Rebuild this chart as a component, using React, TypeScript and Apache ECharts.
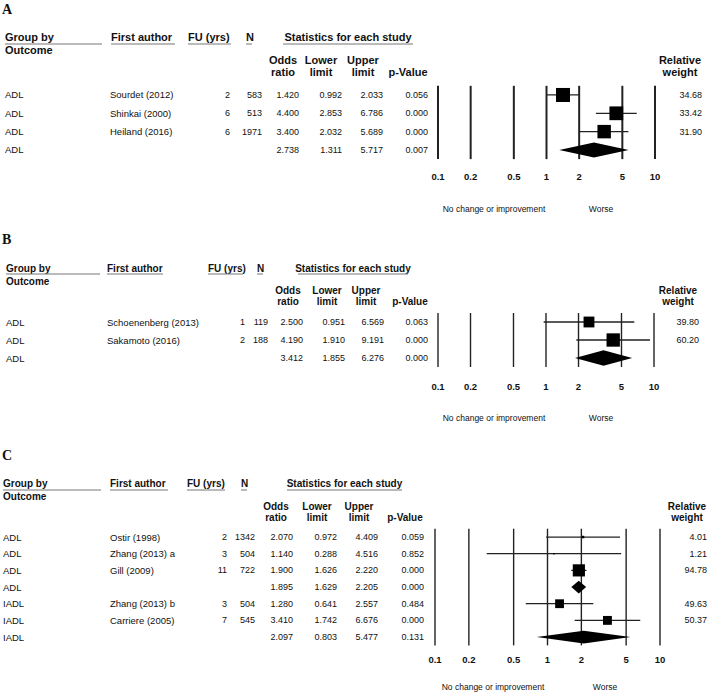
import React, { useEffect, useRef } from 'react';
import * as echarts from 'echarts';

// ---------------- Data ----------------
const tickValues = [0.1, 0.2, 0.5, 1, 2, 5, 10];
const tickLabels = ['0.1', '0.2', '0.5', '1', '2', '5', '10'];
const panelLetters = ['A', 'B', 'C'];
const footerLeft = 'No change or improvement';
const footerRight = 'Worse';

const aOutcome = ['ADL', 'ADL', 'ADL', 'ADL'];
const aAuthor = ['Sourdet (2012)', 'Shinkai (2000)', 'Heiland (2016)', ''];
const aFU = ['2', '6', '6', ''];
const aN = ['583', '513', '1971', ''];
const aOR = [1.42, 4.4, 3.4, 2.738];
const aLower = [0.992, 2.853, 2.032, 1.311];
const aUpper = [2.033, 6.786, 5.689, 5.717];
const aP = [0.056, 0.0, 0.0, 0.007];
const aWeight = [34.68, 33.42, 31.9, 0];
const aSummary = [0, 0, 0, 1];

const bOutcome = ['ADL', 'ADL', 'ADL'];
const bAuthor = ['Schoenenberg (2013)', 'Sakamoto (2016)', ''];
const bFU = ['1', '2', ''];
const bN = ['119', '188', ''];
const bOR = [2.5, 4.19, 3.412];
const bLower = [0.951, 1.91, 1.855];
const bUpper = [6.569, 9.191, 6.276];
const bP = [0.063, 0.0, 0.0];
const bWeight = [39.8, 60.2, 0];
const bSummary = [0, 0, 1];

const cOutcome = ['ADL', 'ADL', 'ADL', 'ADL', 'IADL', 'IADL', 'IADL'];
const cAuthor = ['Ostir (1998)', 'Zhang (2013) a', 'Gill (2009)', '', 'Zhang (2013) b', 'Carriere (2005)', ''];
const cFU = ['2', '3', '11', '', '3', '7', ''];
const cN = ['1342', '504', '722', '', '504', '545', ''];
const cOR = [2.07, 1.14, 1.9, 1.895, 1.28, 3.41, 2.097];
const cLower = [0.972, 0.288, 1.626, 1.629, 0.641, 1.742, 0.803];
const cUpper = [4.409, 4.516, 2.22, 2.205, 2.557, 6.676, 5.477];
const cP = [0.059, 0.852, 0.0, 0.0, 0.484, 0.0, 0.131];
const cWeight = [4.01, 1.21, 94.78, 0, 49.63, 50.37, 0];
const cSummary = [0, 0, 0, 1, 0, 0, 1];

// ---------------- Layout / style ----------------
const SANS = '"Liberation Sans", Arial, sans-serif';
const SERIF = '"Liberation Serif", "Times New Roman", serif';
const INK = '#111';

const panels = [
  { outcome: aOutcome, author: aAuthor, fu: aFU, n: aN, or: aOR, lo: aLower, hi: aUpper, p: aP, w: aWeight, s: aSummary },
  { outcome: bOutcome, author: bAuthor, fu: bFU, n: bN, or: bOR, lo: bLower, hi: bUpper, p: bP, w: bWeight, s: bSummary },
  { outcome: cOutcome, author: cAuthor, fu: cFU, n: cN, or: cOR, lo: cLower, hi: cUpper, p: cP, w: cWeight, s: cSummary },
];

const layouts = [
  {
    letterY: 9, gridLeft: 438, gridWidth: 217, gridTop: 85.8, rowH: 18.33,
    hdrY: 37, outY: 50, sub1Y: 60, sub2Y: 72, ulY: 44, hdrSize: 11,
    groupUl: [5, 102], authorUl: [111, 175], fuUl: [188, 231], nUl: [246, 252], statUl: [283, 413],
    subX: [283, 321, 363, 408], rwX: 680,
    col: { outcome: 5, author: 110, fu: 230, n: 262, or: 299, lo: 342, hi: 383, p: 428, w: 702 },
    tickOffset: 17, footY: 209, footX: [494, 601], lineW: 2, sqK: 2.38, diaH: 0.82,
  },
  {
    letterY: 239, gridLeft: 438, gridWidth: 216, gridTop: 313, rowH: 18,
    hdrY: 268, outY: 281, sub1Y: 290, sub2Y: 301, ulY: 274, hdrSize: 10,
    groupUl: [6, 100], authorUl: [107, 163], fuUl: [208, 243], nUl: [257, 263], statUl: [298, 408],
    subX: [288, 327, 366, 410], rwX: 678,
    col: { outcome: 6, author: 107, fu: 245, n: 268, or: 303, lo: 345, hi: 384, p: 428, w: 699 },
    tickOffset: 19, footY: 418, footX: [494, 601], lineW: 1.4, sqK: 1.72, diaH: 0.86,
  },
  {
    letterY: 455, gridLeft: 435, gridWidth: 225, gridTop: 528.7, rowH: 16.67,
    hdrY: 483, outY: 496, sub1Y: 506, sub2Y: 517, ulY: 490, hdrSize: 10,
    groupUl: [3, 101], authorUl: [110, 168], fuUl: [187, 225], nUl: [241, 247], statUl: [287, 402],
    subX: [276, 317, 359, 405], rwX: 687,
    col: { outcome: 3, author: 110, fu: 227, n: 255, or: 293, lo: 337, hi: 378, p: 424, w: 707 },
    tickOffset: 14, footY: 687, footX: [493, 605], lineW: 1.4, sqK: 1.25, diaH: 0.76,
  },
];

const font = (size: number, bold = false, fam = SANS) => `${bold ? 'bold ' : ''}${size}px ${fam}`;

const txt = (text: string, x: number, y: number, align: string, f: string) => ({
  type: 'text',
  x,
  y,
  silent: true,
  style: {
    text,
    fill: INK,
    font: f,
    textAlign: align,
    align,
    textVerticalAlign: 'middle',
    verticalAlign: 'middle',
  },
});

const hline = (x1: number, x2: number, y: number) => ({
  type: 'line',
  silent: true,
  shape: { x1, y1: y, x2, y2: y },
  style: { stroke: '#777', lineWidth: 1 },
});

function buildOption() {
  const grid: any[] = [];
  const xAxis: any[] = [];
  const yAxis: any[] = [];
  const series: any[] = [];
  const graphic: any[] = [];

  panels.forEach((d, pi) => {
    const L = layouts[pi];
    const nRows = d.or.length;
    grid.push({ left: L.gridLeft, top: L.gridTop, width: L.gridWidth, height: L.rowH * nRows });
    xAxis.push({ type: 'log', logBase: 10, min: 0.1, max: 10, gridIndex: pi, show: false });
    yAxis.push({ type: 'value', min: -0.5, max: nRows - 0.5, inverse: true, gridIndex: pi, show: false });

    // vertical reference lines + tick labels
    series.push({
      type: 'custom',
      xAxisIndex: pi,
      yAxisIndex: pi,
      silent: true,
      data: tickValues.map((v) => [v, 0]),
      renderItem: (params: any, api: any) => {
        const v = api.value(0);
        const top = api.coord([v, -0.5]);
        const bot = api.coord([v, nRows - 0.5]);
        return {
          type: 'group',
          children: [
            {
              type: 'line',
              shape: { x1: top[0], y1: top[1], x2: bot[0], y2: bot[1] },
              style: { stroke: '#222', lineWidth: L.lineW },
            },
            txt(tickLabels[params.dataIndex], bot[0], bot[1] + L.tickOffset, 'center', font(9.5, true)),
          ],
        };
      },
    });

    // forest marks
    series.push({
      type: 'custom',
      xAxisIndex: pi,
      yAxisIndex: pi,
      silent: true,
      data: d.or.map((v, i) => [v, d.lo[i], d.hi[i], i, d.w[i], d.s[i]]),
      renderItem: (params: any, api: any) => {
        const row = api.value(3);
        const pc = api.coord([api.value(0), row]);
        const pl = api.coord([api.value(1), row]);
        const ph = api.coord([api.value(2), row]);
        const rh = Math.abs(api.coord([1, row + 0.5])[1] - api.coord([1, row - 0.5])[1]);
        if (api.value(5) === 1) {
          const h = rh * L.diaH;
          return {
            type: 'polygon',
            shape: { points: [[pl[0], pc[1]], [pc[0], pc[1] - h / 2], [ph[0], pc[1]], [pc[0], pc[1] + h / 2]] },
            style: { fill: '#000' },
          };
        }
        const sz = L.sqK * Math.sqrt(api.value(4));
        return {
          type: 'group',
          children: [
            {
              type: 'line',
              shape: { x1: pl[0], y1: pl[1], x2: ph[0], y2: ph[1] },
              style: { stroke: '#222', lineWidth: 1.3 },
            },
            {
              type: 'rect',
              shape: { x: pc[0] - sz / 2, y: pc[1] - sz / 2, width: sz, height: sz },
              style: { fill: '#000' },
            },
          ],
        };
      },
    });

    // table text per row
    series.push({
      type: 'custom',
      xAxisIndex: pi,
      yAxisIndex: pi,
      silent: true,
      data: d.or.map((_, i) => [1, i]),
      renderItem: (params: any, api: any) => {
        const i = params.dataIndex;
        const y = api.coord([1, api.value(1)])[1];
        const fn = font(9.5);
        const fd = font(9);
        const c = L.col;
        const kids: any[] = [
          txt(d.outcome[i], c.outcome, y, 'left', fn),
          txt(d.author[i], c.author, y, 'left', fn),
          txt(d.fu[i], c.fu, y, 'right', fd),
          txt(d.n[i], c.n, y, 'right', fd),
          txt(d.or[i].toFixed(3), c.or, y, 'right', fd),
          txt(d.lo[i].toFixed(3), c.lo, y, 'right', fd),
          txt(d.hi[i].toFixed(3), c.hi, y, 'right', fd),
          txt(d.p[i].toFixed(3), c.p, y, 'right', fd),
        ];
        if (d.s[i] !== 1) kids.push(txt(d.w[i].toFixed(2), c.w, y, 'right', fd));
        return { type: 'group', children: kids };
      },
    });

    // headers
    const hf = font(L.hdrSize, true);
    graphic.push(txt(panelLetters[pi], 2, L.letterY, 'left', font(14, true, SERIF)));
    graphic.push(txt('Group by', L.groupUl[0], L.hdrY, 'left', hf));
    graphic.push(hline(L.groupUl[0], L.groupUl[1], L.ulY));
    graphic.push(txt('Outcome', L.groupUl[0], L.outY, 'left', hf));
    graphic.push(txt('First author', L.authorUl[0], L.hdrY, 'left', hf));
    graphic.push(hline(L.authorUl[0], L.authorUl[1], L.ulY));
    graphic.push(txt('FU (yrs)', L.fuUl[0], L.hdrY, 'left', hf));
    graphic.push(hline(L.fuUl[0], L.fuUl[1], L.ulY));
    graphic.push(txt('N', L.nUl[0], L.hdrY, 'left', hf));
    graphic.push(hline(L.nUl[0], L.nUl[1], L.ulY));
    graphic.push(txt('Statistics for each study', (L.statUl[0] + L.statUl[1]) / 2, L.hdrY, 'center', hf));
    graphic.push(hline(L.statUl[0], L.statUl[1], L.ulY));
    graphic.push(txt('Odds', L.subX[0], L.sub1Y, 'center', hf));
    graphic.push(txt('ratio', L.subX[0], L.sub2Y, 'center', hf));
    graphic.push(txt('Lower', L.subX[1], L.sub1Y, 'center', hf));
    graphic.push(txt('limit', L.subX[1], L.sub2Y, 'center', hf));
    graphic.push(txt('Upper', L.subX[2], L.sub1Y, 'center', hf));
    graphic.push(txt('limit', L.subX[2], L.sub2Y, 'center', hf));
    graphic.push(txt('p-Value', L.subX[3], L.sub2Y, 'center', hf));
    graphic.push(txt('Relative', L.rwX, L.sub1Y, 'center', hf));
    graphic.push(txt('weight', L.rwX, L.sub2Y, 'center', hf));
    graphic.push(txt(footerLeft, L.footX[0], L.footY, 'center', font(8.5)));
    graphic.push(txt(footerRight, L.footX[1], L.footY, 'center', font(8.5)));
  });

  return {
    animation: false,
    backgroundColor: '#fff',
    grid,
    xAxis,
    yAxis,
    series,
    graphic: { elements: graphic },
  };
}

export default function App() {
  const ref = useRef<HTMLDivElement>(null);
  useEffect(() => {
    if (!ref.current) return;
    const chart = echarts.init(ref.current, undefined, { renderer: 'svg' });
    chart.setOption(buildOption() as any);
    return () => chart.dispose();
  }, []);
  return (
    <div
      ref={ref}
      style={{ position: 'absolute', left: 0, top: 0, width: 709, height: 694, background: '#fff' }}
    />
  );
}
